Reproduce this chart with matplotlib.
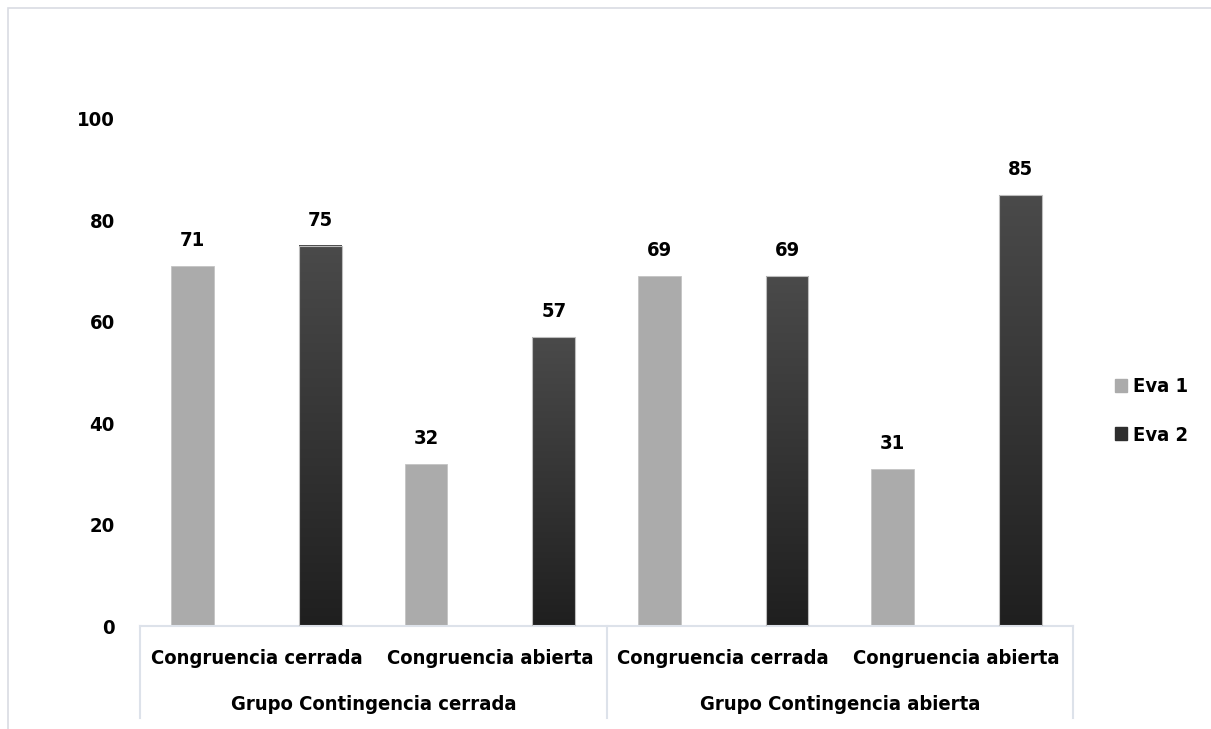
import numpy as np
import matplotlib
matplotlib.use("Agg")
import matplotlib.pyplot as plt
from matplotlib import font_manager
from matplotlib.colors import LinearSegmentedColormap
from matplotlib.patches import Rectangle
from matplotlib.lines import Line2D

groups = ["Grupo Contingencia cerrada", "Grupo Contingencia abierta"]
subcats = ["Congruencia cerrada", "Congruencia abierta",
           "Congruencia cerrada", "Congruencia abierta"]
series = ["Eva 1", "Eva 2"]
eva1 = [71, 32, 69, 31]
eva2 = [75, 57, 69, 85]
yticks = [0, 20, 40, 60, 80, 100]

# narrow bold face if there is one
cond = [f for f in font_manager.fontManager.ttflist
        if f.name == "DejaVu Sans" and f.stretch == "condensed" and f.weight in (700, "bold")]
plt.rcParams["font.family"] = "DejaVu Sans"
plt.rcParams["font.weight"] = "bold"
STRETCH = "condensed" if cond else "normal"
FS = 14.5 if cond else 13

W, H = 1211, 729
fig = plt.figure(figsize=(W / 100, H / 100), dpi=100)

# chart frame (light border, runs off right and bottom edges)
fig.add_artist(Rectangle((8 / W, -0.1), 1.2, (H - 8) / H + 0.1, transform=fig.transFigure,
                         fill=False, edgecolor="#d9dce3", linewidth=1.2))

x_left, x_right = 140, 1073
y0, y100 = 626, 119
ax = fig.add_axes([x_left / W, (H - y0) / H, (x_right - x_left) / W, (y0 - y100) / H])
for s in ax.spines.values():
    s.set_visible(False)
ax.set_xticks([])
ax.set_yticks(yticks)
ax.tick_params(axis="y", length=0, pad=18, labelsize=FS)
for lab in ax.get_yticklabels():
    lab.set_fontweight("bold")
    lab.set_fontstretch(STRETCH)

light = "#ababab"
grad = LinearSegmentedColormap.from_list("eva2", ["#1f1f1f", "#4a4a4a"])
gimg = np.linspace(0, 1, 256).reshape(-1, 1)

txt = dict(fontsize=FS, fontweight="bold", fontstretch=STRETCH)
bw = 0.184
off = 0.274
centers = np.arange(4) + 0.5
for i, c in enumerate(centers):
    ax.bar(c - off, eva1[i], width=bw, color=light, edgecolor="#c4c4c4", linewidth=0.6, zorder=2)
    x0 = c + off - bw / 2
    ax.imshow(gimg, cmap=grad, origin="lower", aspect="auto", interpolation="bilinear",
              extent=[x0, x0 + bw, 0, eva2[i]], zorder=2)
    ax.add_patch(Rectangle((x0, 0), bw, eva2[i], fill=False,
                           edgecolor="#bdbdbd", linewidth=0.8, zorder=3))
    ax.text(c - off, eva1[i] + 3.2, str(eva1[i]), ha="center", va="bottom", **txt)
    ax.text(c + off, eva2[i] + 3.2, str(eva2[i]), ha="center", va="bottom", **txt)
ax.set_xlim(0, 4)
ax.set_ylim(0, 100)

# two-level category axis
trans = ax.get_xaxis_transform()
axc = "#dde2ea"
ax.add_line(Line2D([0, 4], [0, 0], transform=trans, color=axc, lw=1.5, clip_on=False))
bottom = -(718 - y0) / (y0 - y100)
for xv in [0, 2, 4]:
    ax.add_line(Line2D([xv, xv], [0, bottom], transform=trans, color=axc, lw=1.5, clip_on=False))
sub_y = -(658 - y0) / (y0 - y100)
grp_y = -(705 - y0) / (y0 - y100)
for i, c in enumerate(centers):
    ax.text(c, sub_y, subcats[i], transform=trans, ha="center", va="center", **txt)
for g, gc in zip(groups, [1, 3]):
    ax.text(gc, grp_y, g, transform=trans, ha="center", va="center", **txt)

handles = [Rectangle((0, 0), 1, 1, color=light), Rectangle((0, 0), 1, 1, color="#2e2e2e")]
fig.legend(handles, series, loc="center left", bbox_to_anchor=(1115 / W, (H - 411) / H),
           frameon=False, prop={"weight": "bold", "size": FS, "stretch": STRETCH},
           handlelength=0.6, handleheight=0.6, handletextpad=0.3, labelspacing=1.45,
           borderaxespad=0, borderpad=0)

fig.savefig("out.png", dpi=100)
